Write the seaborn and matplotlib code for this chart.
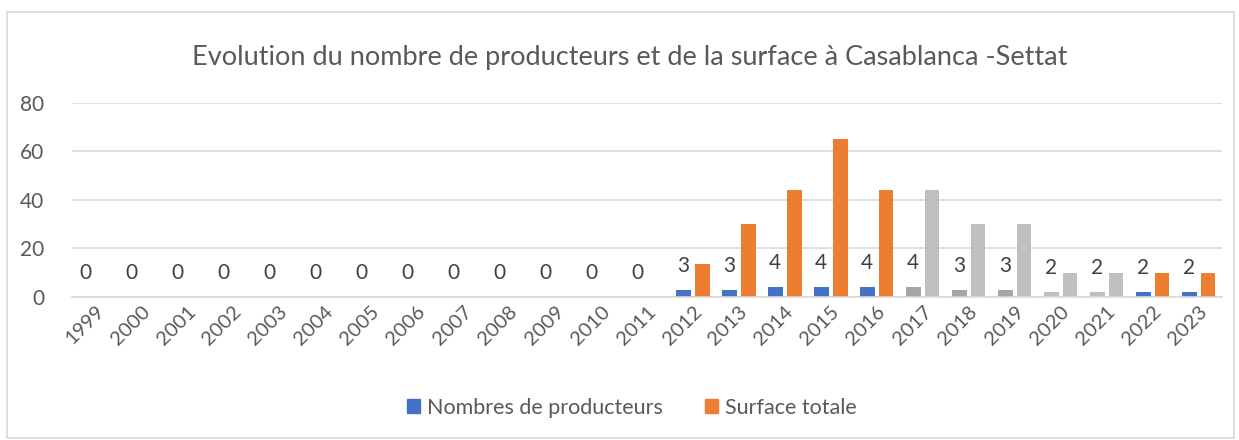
import matplotlib
matplotlib.use("Agg")
import matplotlib.pyplot as plt
import seaborn as sns
import pandas as pd
from matplotlib.patches import Rectangle

years = [str(y) for y in range(1999, 2024)]
producteurs = [0, 0, 0, 0, 0, 0, 0, 0, 0, 0, 0, 0, 0, 3, 3, 4, 4, 4, 4, 3, 3, 2, 2, 2, 2]
surface = [0, 0, 0, 0, 0, 0, 0, 0, 0, 0, 0, 0, 0, 13.5, 30, 44, 65, 44, 44, 30, 30, 10, 10, 10, 10]
series_names = ["Nombres de producteurs", "Surface totale"]
title = "Evolution du nombre de producteurs et de la surface à Casablanca -Settat"

BLUE = "#4472C4"
ORANGE = "#ED7D31"
GRAY_DARK = "#A5A5A5"
GRAY_LIGHT = "#BFBFBF"
TEXT = "#595959"
GRID = "#D9D9D9"

sns.set_theme(style="white")
plt.rcParams["font.family"] = ["Lato", "DejaVu Sans"]

df = pd.DataFrame({
    "year": years * 2,
    "value": producteurs + surface,
    "serie": [series_names[0]] * len(years) + [series_names[1]] * len(years),
})

fig = plt.figure(figsize=(12.39, 4.40), dpi=100)
ax = fig.add_axes([0.058, 0.325, 0.928, 0.441])

sns.barplot(data=df, x="year", y="value", hue="serie", order=years,
            hue_order=series_names, palette=[BLUE, ORANGE],
            width=0.82, gap=0.22, ax=ax, errorbar=None, saturation=1,
            linewidth=0)

# grey highlighting for 2017-2021
gray_prod = {"2017": GRAY_DARK, "2018": GRAY_DARK, "2019": GRAY_DARK,
             "2020": GRAY_LIGHT, "2021": GRAY_LIGHT}
gray_surf = {"2017": GRAY_LIGHT, "2018": GRAY_LIGHT, "2019": GRAY_LIGHT,
             "2020": GRAY_LIGHT, "2021": GRAY_LIGHT}
for i, y in enumerate(years):
    if y in gray_prod:
        ax.containers[0][i].set_facecolor(gray_prod[y])
        ax.containers[1][i].set_facecolor(gray_surf[y])

ax.bar_label(ax.containers[0], labels=[str(v) for v in producteurs],
             padding=10, fontsize=15, color="#404040")

ax.set_ylim(0, 80)
ax.set_yticks([0, 20, 40, 60, 80])
ax.set_xlim(-0.5, len(years) - 0.5)
ax.yaxis.grid(True, color=GRID, linewidth=1.2)
ax.set_axisbelow(True)
for s in ["top", "right", "left"]:
    ax.spines[s].set_visible(False)
ax.spines["bottom"].set_color(GRID)
ax.spines["bottom"].set_linewidth(1.2)
ax.set_xlabel("")
ax.set_ylabel("")
ax.tick_params(axis="y", labelsize=15, colors=TEXT, length=0, pad=20)
ax.tick_params(axis="x", labelsize=14.5, colors=TEXT, length=0, pad=4)
plt.setp(ax.get_xticklabels(), rotation=45, ha="right", rotation_mode="anchor")

fig.text(0.508, 0.870, title, ha="center", va="center", fontsize=19.5,
         color=TEXT)

ax.legend_.remove()
handles = [Rectangle((0, 0), 1, 1, color=BLUE), Rectangle((0, 0), 1, 1, color=ORANGE)]
fig.legend(handles, series_names, loc="center", bbox_to_anchor=(0.51, 0.073),
           ncol=2, frameon=False, fontsize=15.5, labelcolor=TEXT,
           handlelength=0.6, handleheight=0.6, handletextpad=0.3,
           columnspacing=2.0)

fig.patches.append(Rectangle((0.006, 0.004), 0.99, 0.968, transform=fig.transFigure,
                             fill=False, edgecolor=GRID, linewidth=1.2))

fig.savefig("out.png", dpi=100, facecolor="white")
